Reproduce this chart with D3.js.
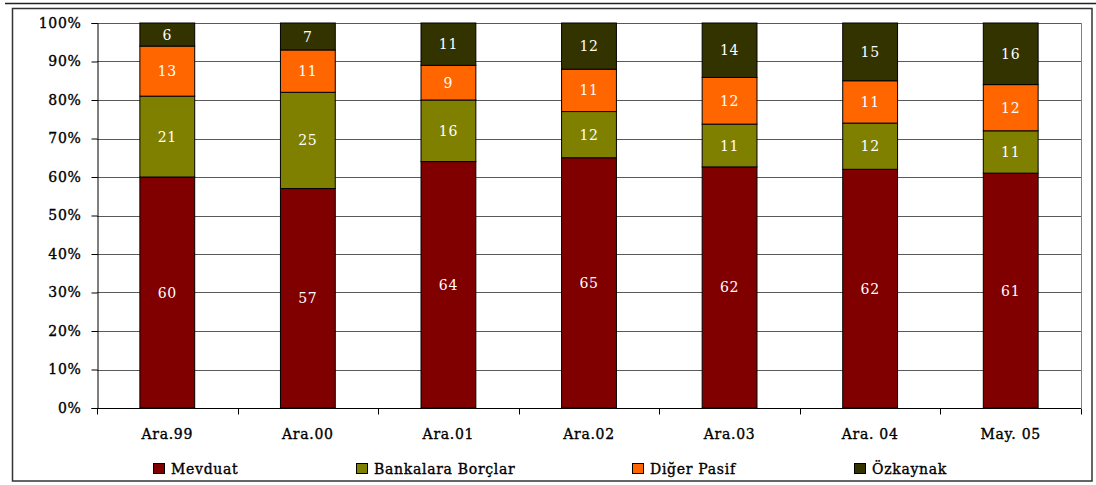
<!DOCTYPE html>
<html>
<head>
<meta charset="utf-8">
<script src="https://cdn.jsdelivr.net/npm/d3@7"></script>
<style>
  html, body { margin: 0; padding: 0; background: #fff; }
  svg { display: block; }
  text { font-family: "DejaVu Serif", "Liberation Serif", serif; letter-spacing: 0.7px; }
  .dark { fill: #000; stroke: #000; stroke-width: 0.35px; }
</style>
</head>
<body>
<svg id="chart" width="1096" height="485"></svg>
<script>
// Liability structure (%) by period
const periods = ["Ara.99", "Ara.00", "Ara.01", "Ara.02", "Ara.03", "Ara. 04", "May. 05"];
const mevduat = [60, 57, 64, 65, 62, 62, 61];
const bankalaraBorclar = [21, 25, 16, 12, 11, 12, 11];
const digerPasif = [13, 11, 9, 11, 12, 11, 12];
const ozkaynak = [6, 7, 11, 12, 14, 15, 16];
const seriesNames = ["Mevduat", "Bankalara Borçlar", "Diğer Pasif", "Özkaynak"];
const seriesColors = ["#800000", "#808000", "#FF6600", "#333300"];
const yTicks = [0, 0.1, 0.2, 0.3, 0.4, 0.5, 0.6, 0.7, 0.8, 0.9, 1.0];

const rows = periods.map((p, i) => ({
  period: p,
  "Mevduat": mevduat[i],
  "Bankalara Borçlar": bankalaraBorclar[i],
  "Diğer Pasif": digerPasif[i],
  "Özkaynak": ozkaynak[i]
}));

const svg = d3.select("#chart");
const plot = { left: 97, right: 1081, top: 23, bottom: 408 };

// outer frame
svg.append("line").attr("x1", 5).attr("x2", 1096).attr("y1", 3.5).attr("y2", 3.5)
  .attr("stroke", "#222").attr("stroke-width", 1.5);
svg.append("rect").attr("x", 12.5).attr("y", 8.5).attr("width", 1079.5).attr("height", 472.5)
  .attr("fill", "none").attr("stroke", "#333").attr("stroke-width", 1.5);

const x = d3.scaleBand().domain(periods).range([plot.left, plot.right]).paddingInner(0.61).paddingOuter(0.305);
const y = d3.scaleLinear().domain([0, 1]).range([plot.bottom, plot.top]);

const stack = d3.stack().keys(seriesNames).offset(d3.stackOffsetExpand);
const layers = stack(rows);

// gridlines
svg.append("g").selectAll("line").data(yTicks.slice(1)).join("line")
  .attr("x1", plot.left).attr("x2", plot.right)
  .attr("y1", d => Math.round(y(d)) + 0.5).attr("y2", d => Math.round(y(d)) + 0.5)
  .attr("stroke", "#5a5a5a").attr("stroke-width", 1);

// plot area right border
svg.append("line").attr("x1", plot.right + 0.5).attr("x2", plot.right + 0.5)
  .attr("y1", plot.top).attr("y2", plot.bottom)
  .attr("stroke", "#808080");

// bars
const gBars = svg.append("g");
layers.forEach((layer, li) => {
  gBars.append("g").selectAll("rect").data(layer).join("rect")
    .attr("x", d => x(d.data.period))
    .attr("width", x.bandwidth())
    .attr("y", d => y(d[1]))
    .attr("height", d => y(d[0]) - y(d[1]))
    .attr("fill", seriesColors[li])
    .attr("stroke", "#000").attr("stroke-width", 1);
});

// value labels
layers.forEach((layer) => {
  gBars.append("g").selectAll("text").data(layer).join("text")
    .attr("x", d => x(d.data.period) + x.bandwidth() / 2)
    .attr("y", d => (y(d[0]) + y(d[1])) / 2)
    .attr("dy", "0.36em")
    .attr("text-anchor", "middle")
    .attr("fill", "#fff")
    .attr("font-size", "14px")
    .text(d => d.data[layer.key]);
});

// y axis
const yAxis = d3.axisLeft(y).tickValues(yTicks).tickFormat(d3.format(".0%")).tickSize(6).tickPadding(10);
const gy = svg.append("g").attr("transform", `translate(${plot.left + 0.5},0)`).call(yAxis);
gy.select(".domain").attr("stroke", "#000");
gy.selectAll(".tick line").attr("stroke", "#000");
gy.selectAll("text").attr("font-size", "14px").attr("class", "dark")
  .style("font-family", "'DejaVu Serif', serif");

// x axis with ticks at category boundaries
const xb = d3.scaleLinear().domain([0, periods.length]).range([plot.left, plot.right]);
const gx = svg.append("g").attr("transform", `translate(0,${plot.bottom + 0.5})`);
gx.append("line").attr("x1", plot.left).attr("x2", plot.right).attr("stroke", "#000");
gx.selectAll(".tk").data(d3.range(periods.length + 1)).join("line")
  .attr("x1", d => Math.round(xb(d)) + 0.5).attr("x2", d => Math.round(xb(d)) + 0.5)
  .attr("y1", 0).attr("y2", 6).attr("stroke", "#000");
gx.selectAll("text").data(periods).join("text")
  .attr("x", d => x(d) + x.bandwidth() / 2)
  .attr("y", 30)
  .attr("text-anchor", "middle")
  .attr("font-size", "14px").attr("class", "dark")
  .text(d => d);

// legend
const legendX = [153, 356, 632, 854];
const lg = svg.append("g");
seriesNames.forEach((name, i) => {
  lg.append("rect").attr("x", legendX[i] + 0.5).attr("y", 463.5).attr("width", 11).attr("height", 10)
    .attr("fill", seriesColors[i]).attr("stroke", "#000");
  lg.append("text").attr("x", legendX[i] + 18).attr("y", 473.5)
    .attr("font-size", "14px").attr("class", "dark").text(name);
});
</script>
</body>
</html>
